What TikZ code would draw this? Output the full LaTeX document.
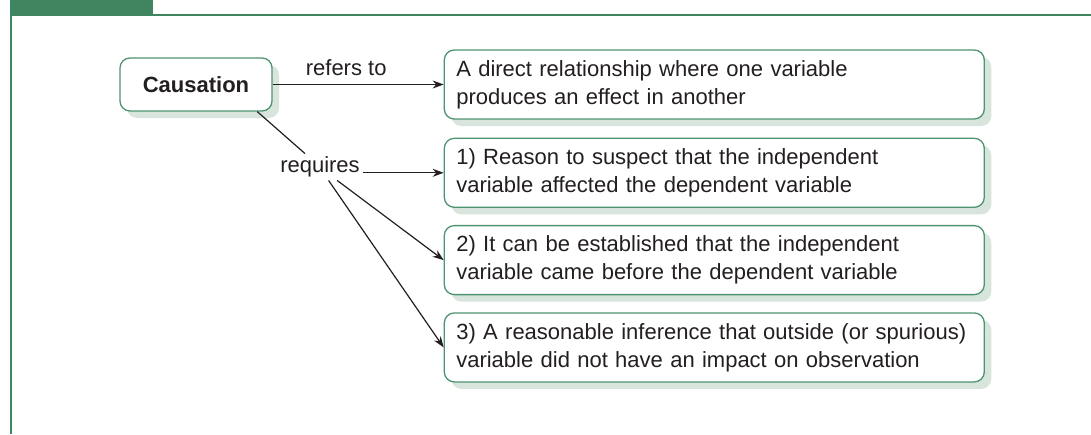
\documentclass[tikz,border=0pt]{standalone}
\usepackage{fontspec}
\setmainfont{Liberation Sans}
\usepackage{tikz}
\usetikzlibrary{arrows.meta,positioning,shadows,calc}
\definecolor{leaf}{HTML}{3E8560}
\definecolor{rim}{HTML}{4D9470}
\definecolor{haze}{HTML}{D7E5DC}
\definecolor{ink}{HTML}{231F20}
\newcommand{\figsize}{\fontsize{22}{28}\selectfont}
\tikzset{
  box/.style={rectangle, rounded corners=10pt, draw=rim, fill=white, line width=1.3pt, text=ink,
              font=\figsize, drop shadow={shadow xshift=7pt, shadow yshift=-7pt, fill=haze, opacity=1}},
  hub/.style={box, minimum width=152pt, minimum height=53pt, font=\figsize\bfseries},
  card/.style={box, text width=516pt, inner xsep=12pt, inner ysep=6pt, minimum height=69pt, align=left},
  lbl/.style={font=\figsize, text=ink, inner sep=3pt},
  link/.style={draw=ink, line width=1.2pt},
  flow/.style={link, -{Stealth[length=11pt, width=8pt]}},
  frame/.style={draw=leaf, line width=1.5pt}
}

\begin{document}
\begin{tikzpicture}[x=1pt, y=-1pt]
 \useasboundingbox (0,0) rectangle (1091,434);
 \fill[leaf] (10,0) rectangle (153,15);
 \draw[frame] (11,434) -- (11,15) -- (1091,15);
 \node[hub] (caus) at (196,84.5) {Causation};
 \node[card, right=171pt of caus] (def) {A direct relationship where one variable\\produces an effect in another};
 \node[card, below=18pt of def] (r1) {1) Reason to suspect that the independent\\variable affected the dependent variable};
 \node[card, below=17pt of r1] (r2) {2) It can be established that the independent\\variable came before the dependent variable};
 \node[card, below=17pt of r2] (r3) {3) A reasonable inference that outside (or spurious)\\variable did not have an impact on observation};
 \node[lbl] (req) at (320,167) {requires};
 \draw[flow] (caus) -- node[lbl, above=5pt, pos=0.43] {refers to} (def);
 \draw[link] ($(caus.south west)!0.9!(caus.south east)$) -- ($(req.north)!0.35!(req.north west)$);
 \draw[flow] (req.east |- r1.west) -- (r1.west);
 \draw[flow] ($(req.south)!0.4!(req.south east)$) -- (r2.west);
 \draw[flow] ($(req.south)!0.2!(req.south east)$) -- (r3.west);
\end{tikzpicture}
\end{document}
